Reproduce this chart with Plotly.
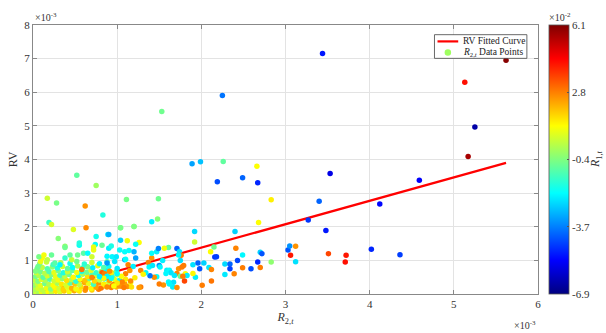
import numpy as np
import plotly.graph_objects as go
from plotly.colors import sample_colorscale

# All abscissa / ordinate values are in units of 1e-3, colour values (R_{1,t}) in units of 1e-2.

# Dense cloud near the origin
cloud_x = [0.01, 0.04, 0.07, 0.10, 0.14, 0.18, 0.22, 0.27, 0.32, 0.37, 0.43, 0.49, 0.55, 0.62, 0.70, 0.78,
           0.02, 0.06, 0.11, 0.16, 0.21, 0.26, 0.31, 0.36, 0.41, 0.46, 0.51, 0.57, 0.63, 0.69, 0.75, 0.81, 0.87, 0.93, 0.99, 1.05, 1.12,
           0.01, 0.05, 0.09, 0.14, 0.19, 0.24, 0.29, 0.34, 0.39, 0.44, 0.50, 0.55, 0.61, 0.66, 0.72, 0.78, 0.84, 0.90, 0.96, 1.02, 1.09, 1.16,
           0.02, 0.06, 0.10, 0.15, 0.20, 0.25, 0.30, 0.35, 0.40, 0.46, 0.51, 0.56, 0.62, 0.67, 0.73, 0.79, 0.85, 0.91, 0.97, 1.03, 1.10,
           0.03, 0.07, 0.12, 0.17, 0.22, 0.27, 0.32, 0.38, 0.43, 0.48, 0.54, 0.59, 0.65, 0.70, 0.76, 0.82, 0.88, 0.94, 1.00,
           0.04, 0.09, 0.14, 0.19, 0.25, 0.30, 0.36, 0.41, 0.47, 0.52, 0.58, 0.64, 0.69, 0.75, 0.81, 0.87, 0.93, 0.99,
           0.05, 0.11, 0.17, 0.23, 0.29, 0.35, 0.41, 0.47, 0.53, 0.59, 0.65, 0.71, 0.77, 0.84, 0.90,
           0.08, 0.16, 0.24, 0.33, 0.44, 0.52, 0.61, 0.70, 0.79, 0.88]
cloud_y = [0.02, 0.05, 0.03, 0.06, 0.04, 0.07, 0.05, 0.08, 0.06, 0.09, 0.07, 0.10, 0.09, 0.11, 0.12, 0.14,
           0.14, 0.17, 0.13, 0.18, 0.15, 0.19, 0.16, 0.14, 0.20, 0.17, 0.15, 0.21, 0.18, 0.16, 0.20, 0.18, 0.22, 0.19, 0.21, 0.24, 0.22,
           0.27, 0.30, 0.25, 0.31, 0.28, 0.26, 0.32, 0.29, 0.27, 0.33, 0.30, 0.28, 0.34, 0.31, 0.29, 0.33, 0.30, 0.35, 0.28, 0.32, 0.30, 0.34,
           0.41, 0.38, 0.43, 0.40, 0.44, 0.39, 0.42, 0.45, 0.40, 0.43, 0.38, 0.44, 0.41, 0.46, 0.39, 0.42, 0.45, 0.40, 0.43, 0.41, 0.44,
           0.52, 0.55, 0.50, 0.54, 0.57, 0.51, 0.56, 0.53, 0.58, 0.50, 0.55, 0.59, 0.52, 0.57, 0.54, 0.49, 0.56, 0.53, 0.58,
           0.63, 0.66, 0.62, 0.67, 0.64, 0.69, 0.63, 0.66, 0.70, 0.64, 0.68, 0.65, 0.71, 0.63, 0.67, 0.69, 0.64, 0.66,
           0.76, 0.79, 0.75, 0.80, 0.77, 0.82, 0.76, 0.79, 0.83, 0.77, 0.81, 0.78, 0.84, 0.79, 0.82,
           0.90, 0.95, 0.88, 0.93, 0.91, 0.97, 0.89, 0.94, 0.90, 0.96]
cloud_c = [0.0, 0.6, 0.1, 0.9, 0.4, 1.2, 0.5, 1.5, 0.8, 1.9, 1.1, 2.3, 1.4, 2.6, 1.8, 2.9,
           0.2, 0.7, 0.4, 1.0, -0.3, 1.3, 0.6, 1.8, 0.9, 2.2, 1.1, 1.6, 2.7, 1.3, 2.4, 3.0, 1.7, 2.8, 2.2, 3.1, 2.6,
           -0.2, 0.5, 0.9, -0.6, 0.3, 1.2, 0.0, 1.5, 0.7, -0.9, 1.9, 0.4, 2.3, 1.0, -1.2, 2.6, 1.4, 0.6, 2.9, 1.8, 2.5, 1.1,
           0.4, -0.4, 0.8, 0.1, -1.0, 0.6, 1.1, -0.2, 1.6, 0.3, -1.5, 1.2, 2.0, -0.7, 1.7, 0.5, -1.8, 2.4, 0.9, -2.1, 1.5,
           -0.5, 0.2, -0.9, 0.7, -0.3, 1.0, -1.1, 0.4, -0.6, 1.3, -1.7, 0.1, 1.6, -1.0, 0.8, -2.0, 1.9, -1.3, 0.5,
           0.6, -0.5, 0.3, -1.0, 0.9, -0.4, -1.6, 0.5, -0.8, 1.1, -1.9, -0.6, 0.8, -1.4, -0.1, -2.1, 1.4, -0.7,
           -0.5, 0.4, -1.0, -0.2, -1.7, 0.7, -0.8, -2.0, 0.2, -1.2, -0.5, -2.2, 0.9, -1.0, -1.8,
           -0.3, 0.5, -1.2, 0.2, -1.8, -0.6, -1.5, 0.6, -2.1, -0.9]

# Scattered points just above the cloud
upper_x = [0.03, 0.06, 0.09, 0.11, 0.07, 0.13, 0.17, 0.22, 0.26, 0.32,
           0.38, 0.46, 0.44, 0.53, 0.60, 0.65, 0.72, 0.70, 0.55, 0.74,
           0.82, 0.90, 0.94, 0.99, 1.03, 1.09, 0.88, 1.13, 0.58, 0.82,
           0.70, 0.90, 0.94, 1.03]
upper_y = [0.68, 0.82, 0.97, 1.07, 1.11, 1.16, 1.02, 1.16, 0.92, 0.87,
           1.07, 1.02, 1.16, 1.16, 1.21, 1.21, 1.31, 1.11, 1.45, 1.47,
           1.45, 1.36, 1.11, 1.11, 1.31, 1.02, 0.92, 0.87, 0.73, 0.63,
           0.49, 0.49, 0.24, 0.24]
upper_c = [-0.4, -0.6, 1.0, 1.2, -0.5, 1.1, 0.4, -0.7, -0.9, -2.1,
           -1.4, 0.5, -0.8, -0.6, -0.9, -2.0, 1.0, 0.6, -1.9, -2.0,
           -0.7, -2.2, -2.1, -2.3, -2.0, -3.0, -3.3, 2.8, 3.0, 3.3,
           2.8, 2.7, 3.0, 2.6]

# Mid-range points (R_{2,t} roughly 0.7 to 3.1)
mid_x = [0.75, 0.89, 1.04, 1.20, 1.12, 1.26, 1.04, 0.72, 0.93, 1.14,
         1.20, 1.09, 1.22, 0.88, 0.97, 1.10, 1.22, 1.37, 1.41, 1.47,
         1.41, 1.61, 1.56, 1.71, 1.74, 1.76, 1.73, 1.75, 1.49, 1.54,
         1.38, 1.42, 1.50, 1.51, 1.59, 1.62, 1.64, 1.58, 1.71, 1.73,
         1.77, 1.81, 1.83, 1.80, 1.75, 1.68, 1.61, 1.67, 1.66, 1.71,
         1.62, 1.55, 1.50, 1.47, 1.44, 1.39, 1.34, 1.28, 1.31, 1.19,
         1.15, 1.21, 1.28, 1.26, 1.16, 1.17, 1.10, 1.05, 1.00, 1.00,
         0.91, 0.85, 0.88, 0.93, 0.84, 0.79, 1.06, 1.00, 0.96, 0.88,
         1.08, 1.90, 1.98, 2.09, 1.93, 1.90, 2.01, 2.12, 2.16, 2.11,
         2.15, 1.92, 1.92, 2.41, 2.40, 2.49, 2.43, 2.28, 2.34, 2.34,
         2.28, 2.39, 2.49, 2.59, 2.67, 2.70, 2.72, 2.70, 2.83, 3.03,
         3.06, 2.12, 1.78, 1.79, 2.18, 1.96, 2.03, 3.05, 3.12, 3.12,
         0.90, 0.55, 0.38, 0.38, 0.30, 0.19, 0.22, 0.48, 0.63, 1.04,
         1.20, 0.83, 0.62, 0.17, 0.28, 1.41, 1.48, 1.11, 1.49, 0.75]
mid_y = [1.71, 1.77, 1.97, 2.01, 1.58, 1.53, 1.60, 1.40, 1.43, 1.29,
         1.26, 1.26, 1.48, 1.12, 0.97, 1.03, 1.07, 0.94, 1.07, 1.26,
         1.21, 1.38, 1.36, 1.35, 1.26, 1.15, 1.16, 1.00, 1.35, 1.00,
         0.80, 0.85, 0.85, 0.80, 0.71, 0.71, 0.63, 0.61, 0.61, 0.75,
         0.80, 0.60, 0.55, 0.39, 0.53, 0.55, 0.36, 0.35, 0.21, 0.19,
         0.30, 0.27, 0.30, 0.51, 0.50, 0.54, 0.63, 0.70, 0.59, 0.82,
         0.70, 0.48, 0.21, 0.19, 0.39, 0.21, 0.60, 0.53, 0.60, 0.76,
         0.68, 0.60, 0.53, 0.47, 0.47, 0.52, 0.36, 0.33, 0.24, 0.21,
         0.19, 0.87, 0.75, 0.79, 0.50, 0.61, 0.26, 0.39, 1.10, 1.26,
         1.40, 1.55, 1.86, 1.36, 1.86, 1.16, 1.00, 0.89, 0.89, 0.75,
         0.58, 0.60, 0.78, 0.75, 0.95, 1.24, 1.20, 0.79, 0.95, 1.31,
         1.15, 0.73, 0.53, 0.85, 1.11, 0.92, 0.92, 1.43, 1.42, 0.96,
         1.77, 1.52, 1.42, 1.38, 1.65, 2.13, 2.07, 1.92, 1.97, 1.97,
         2.01, 2.35, 2.62, 2.85, 2.71, 2.15, 2.23, 2.81, 2.83, 3.23]
mid_c = [-1.8, -2.2, -0.5, -0.4, 1.1, 1.2, -2.6, 1.0, -1.7, -2.0,
         -3.0, -2.0, -1.9, -2.1, -2.3, -2.0, -3.2, 2.8, 2.6, -2.2,
         -2.0, -0.8, 1.1, -4.0, -2.3, 2.9, -2.1, -2.4, -3.6, -2.2,
         -2.0, -2.3, -3.5, -2.1, -2.2, -2.0, -2.4, -2.1, 2.8, 2.6,
         2.9, 1.2, -2.2, 3.6, -0.7, -2.3, -2.0, -2.4, -2.2, 2.7,
         -2.1, 2.6, 2.9, -2.0, 2.7, -3.8, -2.1, 2.8, 1.3, -2.2,
         2.6, 1.4, 2.9, 2.5, 2.7, 1.6, 2.8, 1.2, -2.0, -2.3,
         2.6, 2.9, -2.1, -1.9, 1.3, -2.2, 2.8, 1.5, 1.2, 2.7,
         2.9, -2.4, -4.2, -2.3, -2.2, 1.3, 2.9, 3.0, -4.6, 1.2,
         -0.6, 0.6, -2.5, 2.8, -2.6, -2.1, -4.4, -2.5, -4.0, -4.5,
         -2.3, 2.8, 2.9, -4.3, -4.8, -2.6, -4.2, 2.9, -0.2, -4.2,
         4.2, 2.8, 2.9, 2.9, -4.5, -4.0, -2.6, -3.4, 2.6, -2.4,
         -3.0, -1.6, -0.2, -0.6, -0.3, -1.3, 0.7, 0.8, 2.7, -0.5,
         -0.4, -1.6, 2.6, 0.6, -0.5, -2.2, -0.3, -0.5, -0.6, 0.0]

# Sparse high-value points
far_x = [5.62, 5.13, 5.25, 5.17, 4.59, 4.12, 3.53, 3.40, 3.27, 3.48,
         3.44, 2.25, 1.53, 1.89, 1.99, 2.26, 2.19, 2.49, 2.67, 2.66,
         2.83, 2.68, 0.52, 3.51, 3.72, 3.71, 4.02, 4.36]
far_y = [6.95, 6.30, 4.97, 4.09, 3.38, 2.68, 3.58, 2.76, 2.20, 1.89,
         7.15, 5.90, 5.43, 3.87, 3.93, 3.94, 3.34, 3.46, 3.31, 3.80,
         2.80, 2.13, 3.53, 1.20, 1.15, 0.95, 1.33, 1.17]
far_c = [6.0, 4.3, -6.4, 5.6, -5.3, -5.2, -5.6, -4.0, -4.6, -5.0,
         -5.0, -3.8, -0.6, -3.2, -2.8, -0.8, -4.3, -4.0, -4.8, 1.2,
         1.4, 1.2, -0.8, 3.6, 4.2, 4.3, -4.8, -4.5]

# Linear fit RV = slope * R_{2,t} + intercept
fit_slope = 0.696
fit_intercept = -0.013

x_ticks = [0, 1, 2, 3, 4, 5, 6]
y_ticks = [0, 1, 2, 3, 4, 5, 6, 7, 8]
cbar_ticks = [-6.9, -3.65, -0.4, 2.85, 6.1]
cbar_labels = ["-6.9", "-3.7", "-0.4", "2.8", "6.1"]
c_min, c_max = -6.9, 6.1

legend_labels = ["RV Fitted Curve", "<i>R</i><sub>2,<i>t</i></sub> Data Points"]

pts_x = np.array(cloud_x + upper_x + mid_x + far_x)
pts_y = np.array(cloud_y + upper_y + mid_y + far_y)
pts_c = np.array(cloud_c + upper_c + mid_c + far_c)

fit_x = np.array([pts_x.min(), pts_x.max()])
fit_y = fit_slope * fit_x + fit_intercept

jet = [[0.0, "rgb(0,0,128)"], [0.125, "rgb(0,0,255)"], [0.375, "rgb(0,255,255)"],
       [0.625, "rgb(255,255,0)"], [0.875, "rgb(255,0,0)"], [1.0, "rgb(128,0,0)"]]

FONT = "Liberation Serif"
TXT = "#333333"
FIT_COLOR = "rgb(255,0,0)"
MARKER_SIZE = 5.5

fig = go.Figure()
fig.add_trace(go.Scatter(
    x=fit_x, y=fit_y, mode="lines", name=legend_labels[0], showlegend=False,
    line=dict(color=FIT_COLOR, width=2.2),
))
fig.add_trace(go.Scatter(
    x=pts_x, y=pts_y, mode="markers", name=legend_labels[1], showlegend=False,
    marker=dict(
        size=MARKER_SIZE, color=pts_c, colorscale=jet, cmin=c_min, cmax=c_max,
        line=dict(width=0),
        colorbar=dict(
            x=1.022, xanchor="left", y=0.5, yanchor="middle", len=1.0, lenmode="fraction",
            thickness=20, outlinecolor="#555", outlinewidth=0.8, xpad=0, ypad=0,
            tickvals=cbar_ticks, ticktext=cbar_labels, ticks="inside", ticklen=2,
            tickcolor="#555", tickfont=dict(family=FONT, size=11, color=TXT),
        ),
    ),
))

axis_common = dict(
    showgrid=True, gridcolor="#e3e3e3", gridwidth=1, zeroline=False,
    showline=True, linecolor="#888", linewidth=1, mirror="ticks",
    ticks="inside", ticklen=4, tickcolor="#888",
    tickfont=dict(family=FONT, size=11, color=TXT),
)

fig.update_xaxes(range=[0, 6], tickvals=x_ticks, ticktext=[str(v) for v in x_ticks],
                 title=dict(text="<i>R</i><sub>2,<i>t</i></sub>", standoff=2,
                            font=dict(family=FONT, size=12, color=TXT)),
                 **axis_common)
fig.update_yaxes(range=[0, 8], tickvals=y_ticks, ticktext=[str(v) for v in y_ticks],
                 title=dict(text="RV", standoff=4, font=dict(family=FONT, size=12, color=TXT)),
                 **axis_common)

# Exponent labels and colour-bar title
fig.add_annotation(text="×10<sup>-3</sup>", xref="paper", yref="paper", x=0.0, y=1.0,
                   xanchor="left", yanchor="bottom", showarrow=False,
                   font=dict(family=FONT, size=10, color=TXT))
fig.add_annotation(text="×10<sup>-3</sup>", xref="paper", yref="paper", x=1.0, y=-0.085,
                   xanchor="right", yanchor="top", showarrow=False,
                   font=dict(family=FONT, size=10, color=TXT))
fig.add_annotation(text="×10<sup>-2</sup>", xref="paper", yref="paper", x=1.018, y=1.0,
                   xanchor="left", yanchor="bottom", showarrow=False,
                   font=dict(family=FONT, size=10, color=TXT))
fig.add_annotation(text="<i>R</i><sub>1,<i>t</i></sub>", xref="paper", yref="paper",
                   x=1.114, y=0.5, xanchor="center", yanchor="middle", textangle=-90,
                   showarrow=False, font=dict(family=FONT, size=12, color=TXT))

# Compact legend box (MATLAB-style): frame, line sample, marker sample, labels
lg_x0, lg_x1, lg_y0, lg_y1 = 0.795, 0.978, 0.876, 0.964
row_y = [0.939, 0.898]
sample_x0, sample_x1 = 0.801, 0.842
fig.add_shape(type="rect", xref="paper", yref="paper", x0=lg_x0, x1=lg_x1, y0=lg_y0, y1=lg_y1,
              fillcolor="white", line=dict(color="#444", width=0.8), layer="above")
fig.add_shape(type="line", xref="paper", yref="paper", x0=sample_x0, x1=sample_x1,
              y0=row_y[0], y1=row_y[0], line=dict(color=FIT_COLOR, width=2.2), layer="above")
legend_marker_color = sample_colorscale(jet, [(pts_c[0] - c_min) / (c_max - c_min)])[0]
fig.add_shape(type="circle", xref="paper", yref="paper",
              xsizemode="pixel", ysizemode="pixel",
              xanchor=(sample_x0 + sample_x1) / 2, yanchor=row_y[1],
              x0=-MARKER_SIZE / 2 - 0.5, x1=MARKER_SIZE / 2 + 0.5,
              y0=-MARKER_SIZE / 2 - 0.5, y1=MARKER_SIZE / 2 + 0.5,
              fillcolor=legend_marker_color, line=dict(width=0), layer="above")
for label, ry in zip(legend_labels, row_y):
    fig.add_annotation(text=label, xref="paper", yref="paper", x=sample_x1 + 0.005, y=ry,
                       xanchor="left", yanchor="middle", showarrow=False,
                       font=dict(family=FONT, size=9.5, color="#222"))

fig.update_layout(
    width=606, height=333,
    margin=dict(l=31, r=68, t=25, b=33),
    paper_bgcolor="white", plot_bgcolor="white",
    font=dict(family=FONT, color=TXT),
    showlegend=False,
)

fig.write_html("out.html")
